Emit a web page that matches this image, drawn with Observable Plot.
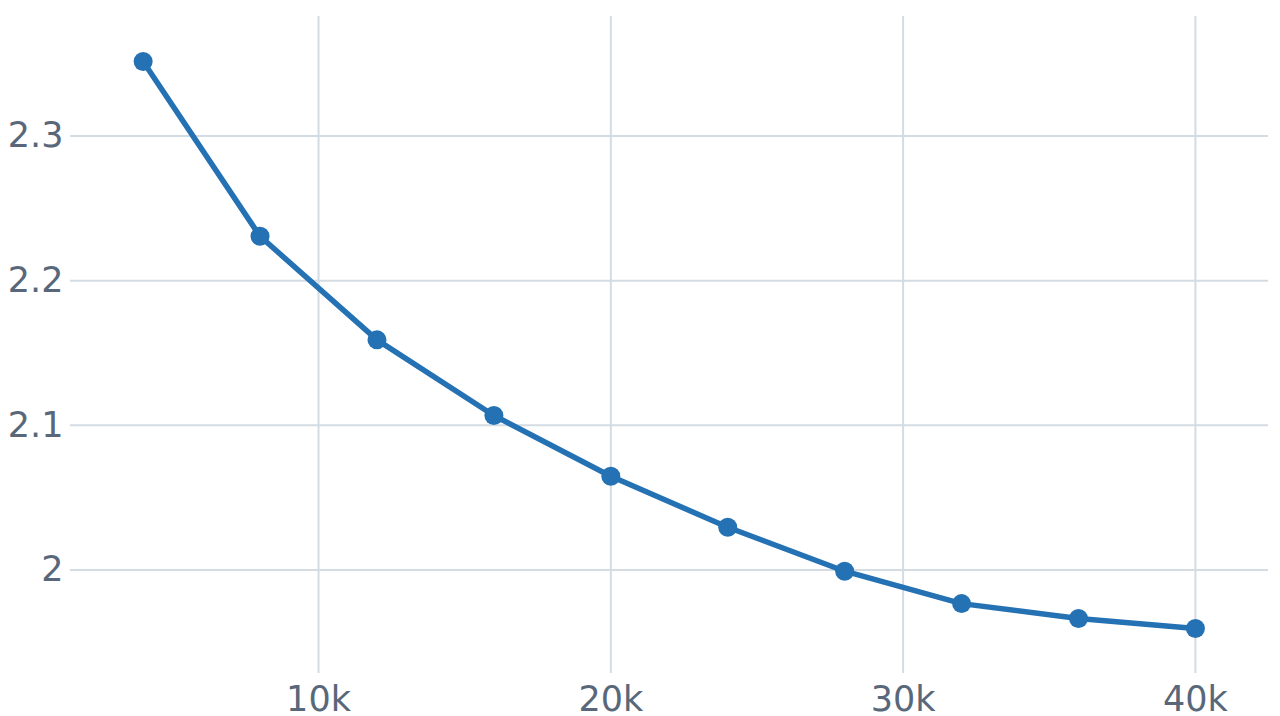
<!DOCTYPE html>
<html>
<head>
<meta charset="utf-8">
<script src="https://cdn.jsdelivr.net/npm/d3@7"></script>
<script src="https://cdn.jsdelivr.net/npm/@observablehq/plot@0.6"></script>
<style>
  html, body { margin: 0; padding: 0; background: #ffffff; }
  #chart svg { display: block; }
</style>
</head>
<body>
<div id="chart"></div>
<script>
const xValues = [4000, 8000, 12000, 16000, 20000, 24000, 28000, 32000, 36000, 40000];
const yValues = [2.3515, 2.2307, 2.1591, 2.1068, 2.0648, 2.0296, 1.9992, 1.9768, 1.9665, 1.9596];
const xTicks = [10000, 20000, 30000, 40000];
const xTickLabels = ["10k", "20k", "30k", "40k"];
const yTicks = [2.0, 2.1, 2.2, 2.3];
const yTickLabels = ["2", "2.1", "2.2", "2.3"];

const data = xValues.map((x, i) => ({x, y: yValues[i]}));
const lineColor = "#2471b4";
const gridColor = "#d3dbe3";
const textColor = "#58687a";

const chart = Plot.plot({
  width: 1280,
  height: 716,
  marginLeft: 70,
  marginRight: 12,
  marginTop: 16,
  marginBottom: 43,
  style: {fontFamily: "DejaVu Sans, Verdana, sans-serif", fontSize: "35px", color: textColor, background: "#ffffff"},
  x: {domain: [1515, 42500]},
  y: {domain: [1.9285, 2.3826]},
  marks: [
    Plot.gridX(xTicks, {stroke: gridColor, strokeOpacity: 1, strokeWidth: 2}),
    Plot.gridY(yTicks, {stroke: gridColor, strokeOpacity: 1, strokeWidth: 2}),
    Plot.axisX(xTicks, {tickSize: 0, tickPadding: 13, label: null, tickFormat: (d) => xTickLabels[xTicks.indexOf(d)], fill: textColor}),
    Plot.axisY(yTicks, {tickSize: 0, tickPadding: 7, label: null, tickFormat: (d) => yTickLabels[yTicks.indexOf(d)], fill: textColor}),
    Plot.line(data, {x: "x", y: "y", stroke: lineColor, strokeWidth: 5.5}),
    Plot.dot(data, {x: "x", y: "y", r: 9.5, fill: lineColor, stroke: "none"})
  ]
});
document.getElementById("chart").appendChild(chart);
</script>
</body>
</html>
